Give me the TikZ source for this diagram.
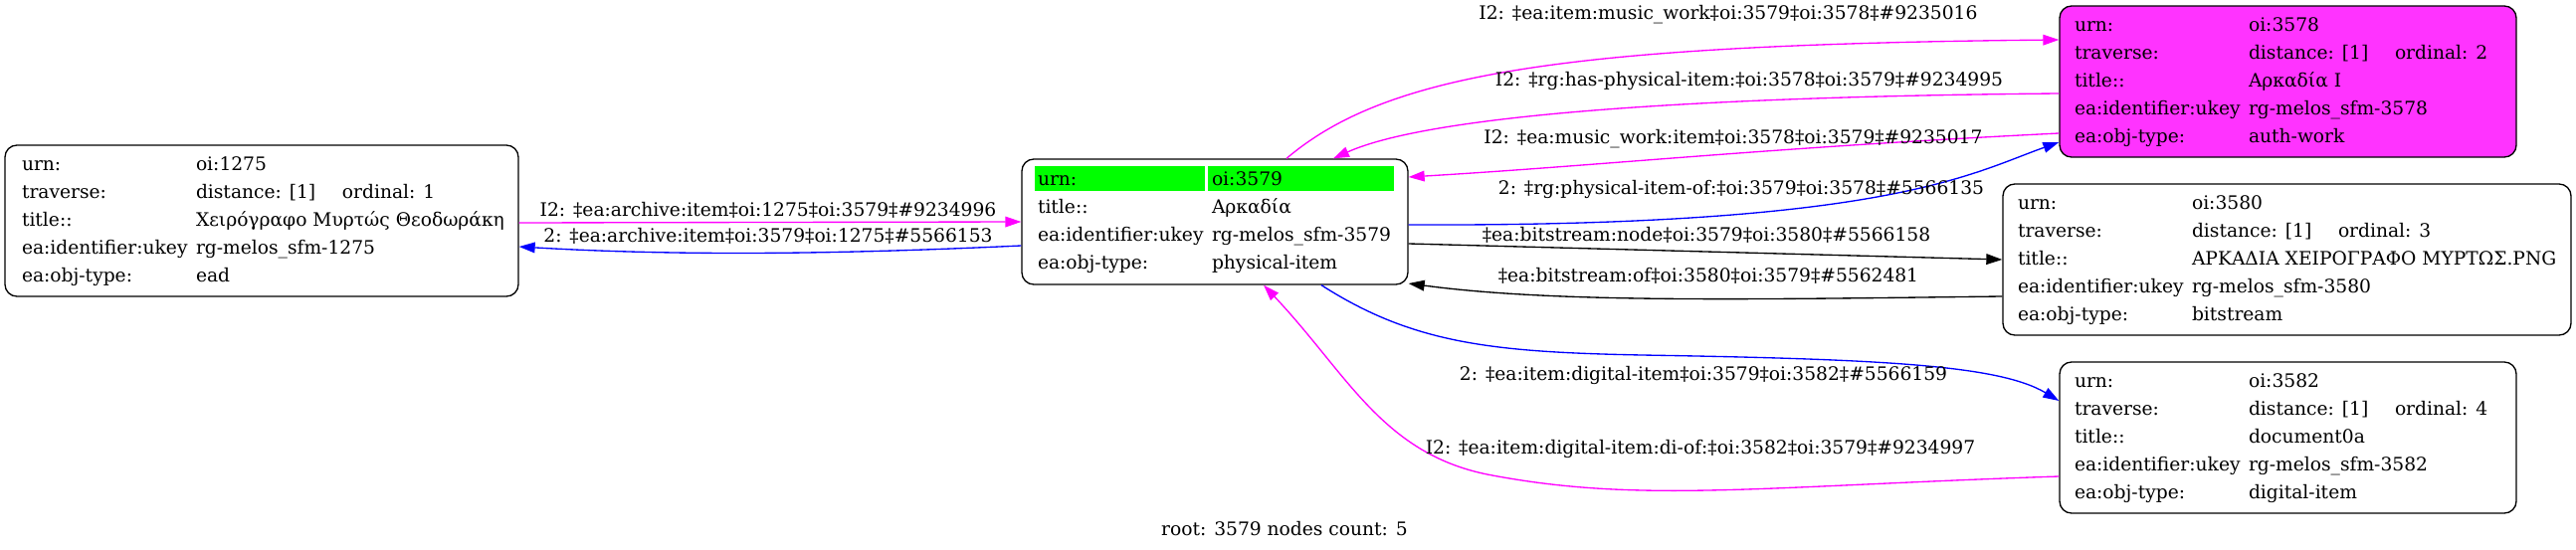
\documentclass[tikz,border=0pt]{standalone}
\usepackage{fontspec}
\setmainfont{DejaVu Serif}
\usepackage{array}
\usetikzlibrary{arrows.meta,backgrounds}
\definecolor{hlgreen}{HTML}{00FF00}
\definecolor{authpink}{HTML}{FF33FF}
\definecolor{edgemag}{HTML}{FF00FF}
\definecolor{edgeblue}{HTML}{0000FF}
\tikzset{
  rec/.style={draw, rounded corners=9pt, line width=1pt, inner sep=0pt,
    font=\fontsize{14}{21}\selectfont},
  lab/.style={inner sep=0pt, font=\fontsize{14}{17}\selectfont},
  edgetip/.style={line width=1pt, -{Triangle[length=12pt,width=8pt]}},
}
\def\drawmag{\draw[edgemag, edgetip]}
\def\drawblue{\draw[edgeblue, edgetip]}
\def\drawblack{\draw[black, edgetip]}
\newcommand{\rectab}[3]{\begin{tabular}{@{}w{l}{#1}@{}w{l}{#2}@{}}#3\end{tabular}}
\newcommand{\trav}[1]{\makebox[110.25pt][l]{distance: [1]}ordinal: #1}

\begin{document}
\begin{tikzpicture}[x=0.75pt,y=-0.75pt]
\useasboundingbox (0,0) rectangle (2589,553);

% records
\node[rec, minimum width=387pt, minimum height=114pt] (n1275) at (263,222)
  {\rectab{131.25pt}{230.25pt}{urn: & oi:1275\\ traverse: & \trav{1}\\
   title:: & Χειρόγραφο Μυρτώς Θεοδωράκη\\ ea:identifier:ukey & rg-melos\_sfm-1275\\
   ea:obj-type: & ead}};
\node[rec, minimum width=291pt, minimum height=94.5pt] (n3579) at (1221,223)
  {\rectab{131.25pt}{135.75pt}{urn: & oi:3579\\ title:: & Αρκαδία\\
   ea:identifier:ukey & rg-melos\_sfm-3579\\ ea:obj-type: & physical-item}};
\node[rec, fill=authpink, minimum width=344.25pt, minimum height=114pt] (n3578) at (2299.5,82)
  {\rectab{131.25pt}{190.5pt}{urn: & oi:3578\\ traverse: & \trav{2}\\
   title:: & Αρκαδία Ι\\ ea:identifier:ukey & rg-melos\_sfm-3578\\
   ea:obj-type: & auth-work}};
\node[rec, minimum width=428.25pt, minimum height=114pt] (n3580) at (2298.5,261)
  {\rectab{131.25pt}{274.5pt}{urn: & oi:3580\\ traverse: & \trav{3}\\
   title:: & ΑΡΚΑΔΙΑ ΧΕΙΡΟΓΡΑΦΟ ΜΥΡΤΩΣ.PNG\\ ea:identifier:ukey & rg-melos\_sfm-3580\\
   ea:obj-type: & bitstream}};
\node[rec, minimum width=344.25pt, minimum height=114pt] (n3582) at (2299.5,440)
  {\rectab{131.25pt}{190.5pt}{urn: & oi:3582\\ traverse: & \trav{4}\\
   title:: & document0a\\ ea:identifier:ukey & rg-melos\_sfm-3582\\
   ea:obj-type: & digital-item}};

% root highlight
\begin{scope}[on background layer]
\fill[hlgreen] ([shift={(14,8)}]n3579.north west) rectangle ([shift={(185,33)}]n3579.north west);
\fill[hlgreen] ([shift={(188,8)}]n3579.north west) rectangle ([shift={(375,33)}]n3579.north west);
\end{scope}

% edges
\drawmag ([shift={(0,2)}]n1275.east) -- (n3579.west);
\drawblue ([shift={(0,24)}]n3579.west) .. controls +(-170,8) and +(170,10) .. ([shift={(0,26)}]n1275.east);
\drawmag ([shift={(72,0)}]n3579.north) .. controls +(100,-85) and +(-500,5) .. ([shift={(0,-42)}]n3578.west);
\drawmag ([shift={(0,12)}]n3578.west) .. controls +(-350,3) and +(100,-45) .. ([shift={(119,0)}]n3579.north);
\drawmag ([shift={(0,52)}]n3578.west) .. controls +(-300,15) and +(200,-12) .. ([shift={(0,-45)}]n3579.east);
\drawblue ([shift={(0,3)}]n3579.east) .. controls +(480,2) and +(-90,32) .. ([shift={(0,61)}]n3578.west);
\drawblack ([shift={(0,22)}]n3579.east) -- (n3580.west);
\drawblack ([shift={(0,37)}]n3580.west) .. controls +(-250,3) and +(150,20) .. ([shift={(0,62)}]n3579.east);
\drawblue ([shift={(107,0)}]n3579.south) .. controls +(92,59) and +(-150,-3) .. (1650,357)
  .. controls +(240,4) and +(-60,-36) .. ([shift={(0,-37)}]n3582.west);
\drawmag ([shift={(0,39)}]n3582.west) .. controls +(-300,10) and +(150,28) .. (1500,478)
  .. controls +(-110,-20) and +(85,90) .. ([shift={(49,0)}]n3579.south);

% edge labels
\node[lab] (l1) at (772,211) {I2: ‡ea:archive:item‡oi:1275‡oi:3579‡\#9234996};
\node[lab] (l2) at (772,237) {2: ‡ea:archive:item‡oi:3579‡oi:1275‡\#5566153};
\node[lab] (l3) at (1737,15) {I2: ‡ea:item:music\_work‡oi:3579‡oi:3578‡\#9235016};
\node[lab] (l4) at (1758,81) {I2: ‡rg:has-physical-item:‡oi:3578‡oi:3579‡\#9234995};
\node[lab] (l5) at (1742,140) {I2: ‡ea:music\_work:item‡oi:3578‡oi:3579‡\#9235017};
\node[lab] (l6) at (1750,190) {2: ‡rg:physical-item-of:‡oi:3579‡oi:3578‡\#5566135};
\node[lab] (l7) at (1715,236) {‡ea:bitstream:node‡oi:3579‡oi:3580‡\#5566158};
\node[lab] (l8) at (1717,277) {‡ea:bitstream:of‡oi:3580‡oi:3579‡\#5562481};
\node[lab] (l9) at (1712,377) {2: ‡ea:item:digital-item‡oi:3579‡oi:3582‡\#5566159};
\node[lab] (l10) at (1709,451) {I2: ‡ea:item:digital-item:di-of:‡oi:3582‡oi:3579‡\#9234997};

\node[lab] (foot) at (1291,532) {root: 3579 nodes count: 5};
\end{tikzpicture}
\end{document}
